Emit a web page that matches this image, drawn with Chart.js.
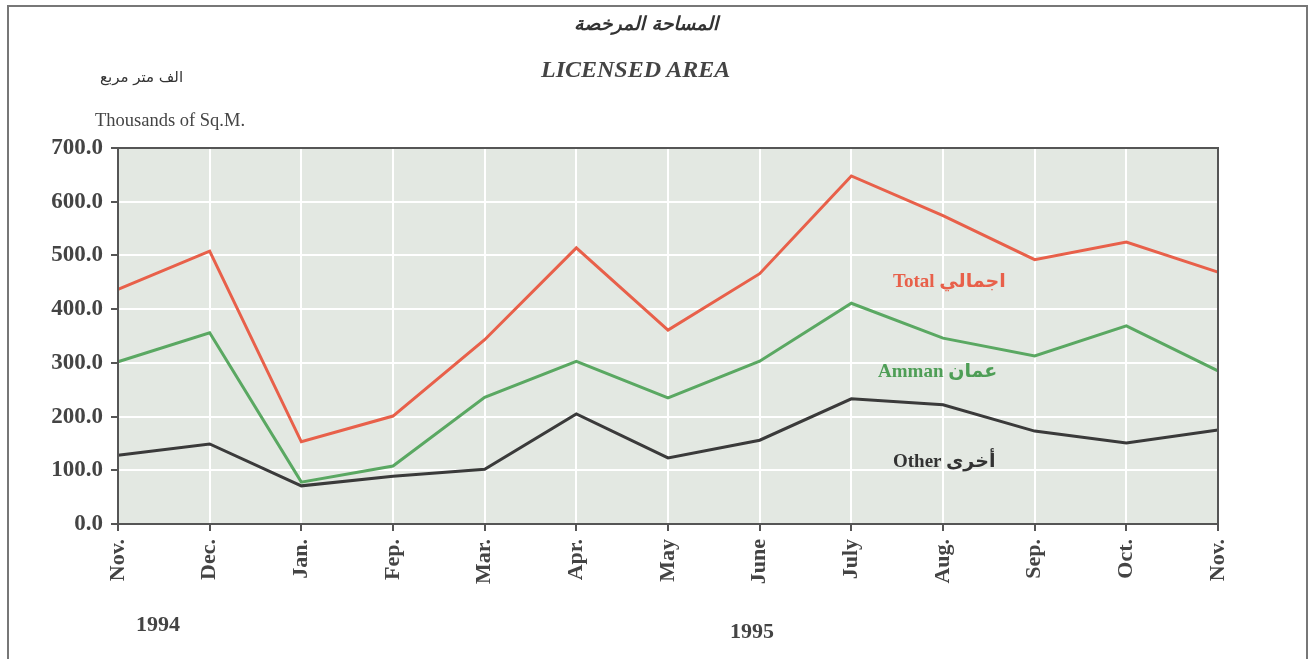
<!DOCTYPE html>
<html>
<head>
<meta charset="utf-8">
<script src="https://cdn.jsdelivr.net/npm/chart.js@4/dist/chart.umd.min.js"></script>
<style>
    body { margin: 0; background: #fff; width: 1313px; height: 659px; overflow: hidden; position: relative; font-family: "Liberation Serif", serif; }
    #frame { position: absolute; left: 7px; top: 5px; width: 1297px; height: 670px; border: 2px solid #777; }
    canvas { position: absolute; left: 0; top: 0; }
    .txt { position: absolute; white-space: nowrap; color: #333; }
    .ar { font-family: 'DejaVu Sans', sans-serif; font-size: 19px; }
</style>
</head>
<body>
<div id="frame"></div>
<canvas id="lineChart" width="1313" height="659"></canvas>
<div class="txt" style="left:574px; top:12px; font: italic bold 19px 'DejaVu Sans', serif; color:#333;">المساحة المرخصة</div>
<div class="txt" style="left:541px; top:56px; font: italic bold 24px 'Liberation Serif', serif; color:#444;">LICENSED AREA</div>
<div class="txt" style="left:100px; top:68px; font: 15px 'DejaVu Sans', sans-serif; color:#333;">الف متر مربع</div>
<div class="txt" style="left:95px; top:110px; font: 18.5px 'Liberation Serif', serif; color:#444;">Thousands of Sq.M.</div>
<div class="txt" style="left:136px; top:611px; font: bold 22px 'Liberation Serif', serif; color:#444;">1994</div>
<div class="txt" style="left:730px; top:618px; font: bold 22px 'Liberation Serif', serif; color:#444;">1995</div>
<div class="txt" style="left:893px; top:269px; font: bold 19px 'Liberation Serif', serif; color:#e8604a;">Total <span class="ar">اجمالي</span></div>
<div class="txt" style="left:878px; top:359px; font: bold 19px 'Liberation Serif', serif; color:#4e9e56;">Amman <span class="ar">عمان</span></div>
<div class="txt" style="left:893px; top:449px; font: bold 19px 'Liberation Serif', serif; color:#333;">Other <span class="ar">أخرى</span></div>
<script>
const months = ['Nov.', 'Dec.', 'Jan.', 'Fep.', 'Mar.', 'Apr.', 'May', 'June', 'July', 'Aug.', 'Sep.', 'Oct.', 'Nov.'];
const totalArea = [437, 508, 153, 201, 343, 514, 361, 466, 648, 574, 492, 525, 469];
const ammanArea = [302, 356, 78, 108, 236, 303, 235, 303, 411, 346, 313, 369, 285];
const otherArea = [128, 149, 71, 89, 102, 205, 123, 156, 233, 222, 173, 151, 175];

// plot background + frame around the plot
const plotBox = {
    id: 'plotBox',
    beforeDraw(chart) {
        const { ctx, chartArea: a } = chart;
        ctx.save();
        ctx.fillStyle = '#e3e8e2';
        ctx.fillRect(a.left, a.top, a.width, a.height);
        ctx.restore();
    },
    afterDatasetsDraw(chart) {
        const { ctx, chartArea: a } = chart;
        ctx.save();
        ctx.strokeStyle = '#555';
        ctx.lineWidth = 2;
        ctx.strokeRect(a.left, a.top, a.width, a.height);
        ctx.restore();
    }
};

function line(data, color) {
    return { data: data, borderColor: color, borderWidth: 3, pointRadius: 0, tension: 0, fill: false };
}

const ctx = document.getElementById('lineChart').getContext('2d');
const lineChart = new Chart(ctx, {
    type: 'line',
    data: {
        labels: months,
        datasets: [
            line(totalArea, '#e8604a'),
            line(ammanArea, '#5aa862'),
            line(otherArea, '#3a3a3a')
        ]
    },
    options: {
        responsive: false,
        animation: false,
        layout: { padding: { top: 148, right: 95, left: 0, bottom: 0 } },
        plugins: { legend: { display: false }, tooltip: { enabled: false } },
        scales: {
            x: {
                offset: false,
                afterFit: s => { s.height = 135; },
                grid: { color: '#ffffff', lineWidth: 2, tickColor: '#555', tickLength: 7, tickWidth: 2 },
                border: { color: '#555', width: 2 },
                ticks: {
                    minRotation: 90, maxRotation: 90, padding: 8, autoSkip: false,
                    color: '#444', font: { family: 'Liberation Serif', weight: 'bold', size: 22 }
                }
            },
            y: {
                min: 0, max: 700,
                afterFit: s => { s.width = 118; },
                grid: { color: '#ffffff', lineWidth: 2, tickColor: '#555', tickLength: 7, tickWidth: 2 },
                border: { color: '#555', width: 2 },
                ticks: {
                    stepSize: 100, padding: 8,
                    color: '#444', font: { family: 'Liberation Serif', weight: 'bold', size: 23 },
                    callback: v => v.toFixed(1)
                }
            }
        }
    },
    plugins: [plotBox]
});
</script>
</body>
</html>
